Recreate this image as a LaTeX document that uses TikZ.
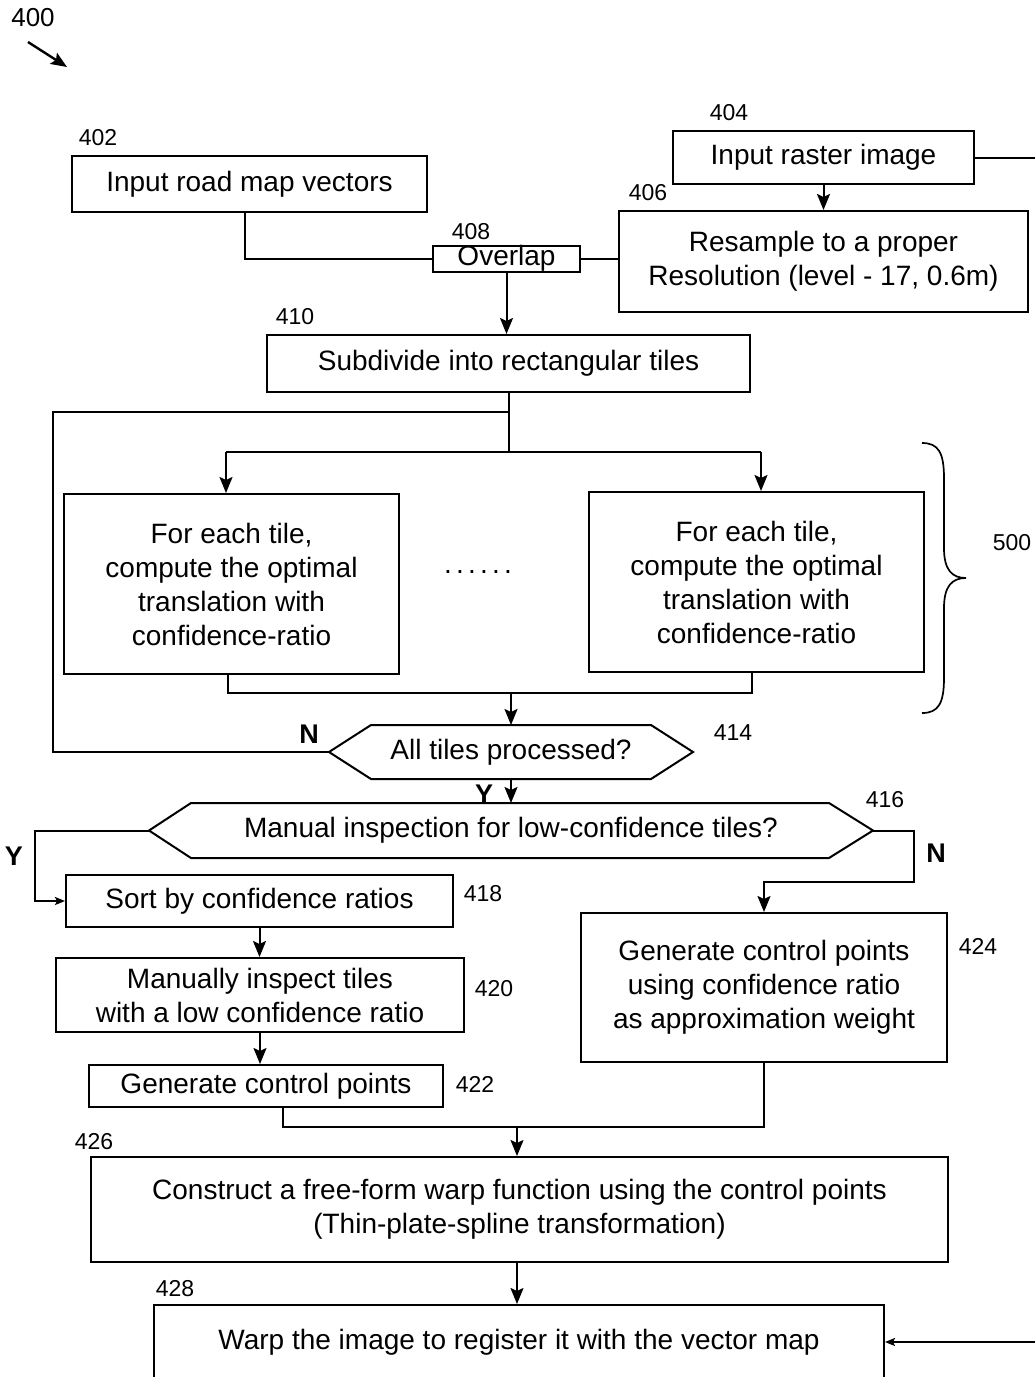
\documentclass[tikz,border=0pt]{standalone}
\usepackage{fontspec}
\setmainfont{Liberation Sans}
\usetikzlibrary{arrows.meta}
\begin{document}
\begin{tikzpicture}[x=1pt,y=-1pt, line width=2pt,
  box/.style={draw, rectangle, inner sep=0pt, align=center, font=\fontsize{28}{34}\selectfont},
  lbl/.style={font=\fontsize{23}{26}\selectfont, inner sep=0pt},
  yn/.style={font=\fontsize{27}{30}\selectfont\bfseries, inner sep=0pt},
  arr/.style={-{Stealth[length=16pt,width=13pt,inset=3pt]}},
  sarr/.style={-{Stealth[length=10pt,width=8pt,inset=2pt]}},
  hexa/.style={rectangle, inner sep=0pt, align=center, font=\fontsize{28}{34}\selectfont}]
\useasboundingbox[fill=white] (0,0) rectangle (1035,1377);

% labels
\node[lbl, font=\fontsize{26}{28}\selectfont] (n400) at (33,18) {400};
\coordinate (a400s) at (28,42);
\coordinate (a400e) at (67,67);
\draw[arr, line width=2.4pt] (a400s) -- (a400e);

\node[lbl] (n402) at (98,138) {402};
\node[lbl] (n404) at (729,113) {404};
\node[lbl] (n406) at (648,193) {406};
\node[lbl] (n408) at (471,232) {408};
\node[lbl] (n410) at (295,317) {410};
\node[lbl] (n500) at (1012,543) {500};
\node[lbl] (n414) at (733,733) {414};
\node[lbl] (n416) at (885,800) {416};
\node[lbl] (n418) at (483,894) {418};
\node[lbl] (n420) at (494,989) {420};
\node[lbl] (n422) at (475,1084) {422};
\node[lbl] (n424) at (978,946) {424};
\node[lbl] (n426) at (94,1142) {426};
\node[lbl] (n428) at (175,1289) {428};

% boxes
\node[box, minimum width=355pt, minimum height=56pt] (b402) at (249.5,184) {Input road map vectors};
\node[box, minimum width=301pt, minimum height=53pt] (b404) at (823.5,157.5) {Input raster image};
\node[box, minimum width=409pt, minimum height=101pt] (b406) at (823.5,261.5) {Resample to a proper\\Resolution (level - 17, 0.6m)};
\node[box, minimum width=147pt, minimum height=26pt, text height=18pt, text depth=6pt] (b408) at (506.5,259) {Overlap};
\node[box, minimum width=483pt, minimum height=57pt] (b410) at (508.5,363.5) {Subdivide into rectangular tiles};
\node[box, minimum width=335pt, minimum height=180pt] (b412a) at (231.5,584) {For each tile,\\compute the optimal\\translation with\\confidence-ratio};
\node[box, minimum width=335pt, minimum height=180pt] (b412b) at (756.5,582) {For each tile,\\compute the optimal\\translation with\\confidence-ratio};
\node[font=\fontsize{28}{34}\selectfont, inner sep=0pt, anchor=base] (dots) at (478,573) {.\kern4.2pt.\kern4.2pt.\kern4.2pt.\kern4.2pt.\kern4.2pt.};

\node[hexa, minimum width=362pt, minimum height=52pt] (d414) at (511,752) {All tiles processed?};
\draw (d414.west) -- ([xshift=42pt]d414.north west) -- ([xshift=-42pt]d414.north east) -- (d414.east) -- ([xshift=-42pt]d414.south east) -- ([xshift=42pt]d414.south west) -- cycle;
\node[hexa, minimum width=722pt, minimum height=53pt] (d416) at (511,830.5) {Manual inspection for low-confidence tiles?};
\draw (d416.west) -- ([xshift=42pt]d416.north west) -- ([xshift=-44pt]d416.north east) -- (d416.east) -- ([xshift=-44pt]d416.south east) -- ([xshift=42pt]d416.south west) -- cycle;

\node[box, minimum width=387pt, minimum height=52pt] (b418) at (259.5,901) {Sort by confidence ratios};
\node[box, minimum width=408pt, minimum height=74pt] (b420) at (260,995) {Manually inspect tiles\\with a low confidence ratio};
\node[box, minimum width=354pt, minimum height=42pt] (b422) at (266,1086) {Generate control points};
\node[box, minimum width=366pt, minimum height=149pt] (b424) at (764,987.5) {Generate control points\\using confidence ratio\\as approximation weight};
\node[box, minimum width=857pt, minimum height=105pt] (b426) at (519.5,1209.5) {Construct a free-form warp function using the control points\\(Thin-plate-spline transformation)};
\node[box, minimum width=730pt, minimum height=74pt] (b428) at (519,1342) {Warp the image to register it with the vector map};

\node[yn] (lN1) at (309,734) {N};
\node[yn] (lY1) at (484,794) {Y};
\node[yn] (lY2) at (14,856) {Y};
\node[yn] (lN2) at (936,853) {N};

% connectors
\draw ([xshift=-4.5pt]b402.south) |- (b408.west);
\draw (b408.east) -- (b408.east -| b406.west);
\draw[arr] (b404.south) -- (b406.north);
\coordinate (rt) at (1048,0);
\draw[sarr] (b404.east) -- (b404.east -| rt) -- (rt |- b428.east) -- (b428.east);
\draw[arr] (b408.south) -- (b408.south |- b410.north);

\coordinate (j1) at (0,412);
\coordinate (j2) at (0,452);
\coordinate (lp) at (53,0);
\draw (b410.south) -- (b410.south |- j2);
\draw ([xshift=-5.5pt]b412a.north |- j2) -- ([xshift=4.5pt]b412b.north |- j2);
\draw[arr] ([xshift=-5.5pt]b412a.north |- j2) -- ([xshift=-5.5pt]b412a.north);
\draw[arr] ([xshift=4.5pt]b412b.north |- j2) -- ([xshift=4.5pt]b412b.north);
\draw (d414.west) -- (d414.west -| lp) -- (lp |- j1) -- (b410.south |- j1);

\coordinate (m1) at (0,693);
\draw ([xshift=-3.5pt]b412a.south) -- ([xshift=-3.5pt]b412a.south |- m1) -- ([xshift=-4.5pt]b412b.south |- m1) -- ([xshift=-4.5pt]b412b.south);
\draw[arr] (d414.north |- m1) -- (d414.north);
\draw[arr] (d414.south) -- (d416.north);

\coordinate (yl) at (35,0);
\draw[sarr] (d416.west) -- (d416.west -| yl) -- (yl |- b418.west) -- (b418.west);
\coordinate (nr) at (914,882);
\draw[arr] (d416.east) -- (d416.east -| nr) -- (nr) -- (nr -| b424.north) -- (b424.north);

\draw[arr] (b418.south) -- (b418.south |- b420.north);
\draw[arr] (b420.south) -- (b420.south |- b422.north);
\coordinate (m2) at (0,1127);
\draw ([xshift=17pt]b422.south) -- ([xshift=17pt]b422.south |- m2) -- (b424.south |- m2) -- (b424.south);
\draw[arr] ([xshift=-2.5pt]b426.north |- m2) -- ([xshift=-2.5pt]b426.north);
\draw[arr] ([xshift=-2.5pt]b426.south) -- ([xshift=-2.5pt]b426.south |- b428.north);

% brace 500
\coordinate (br1) at (922,443);
\coordinate (brt) at (966,578);
\coordinate (br2) at (922,713);
\draw[line width=1.7pt] (br1) .. controls (938,443) and (944,452) .. (944,478) -- (944,548)
  .. controls (944,570) and (952,578) .. (brt)
  .. controls (952,578) and (944,586) .. (944,608) -- (944,678)
  .. controls (944,704) and (938,713) .. (br2);
\end{tikzpicture}
\end{document}
